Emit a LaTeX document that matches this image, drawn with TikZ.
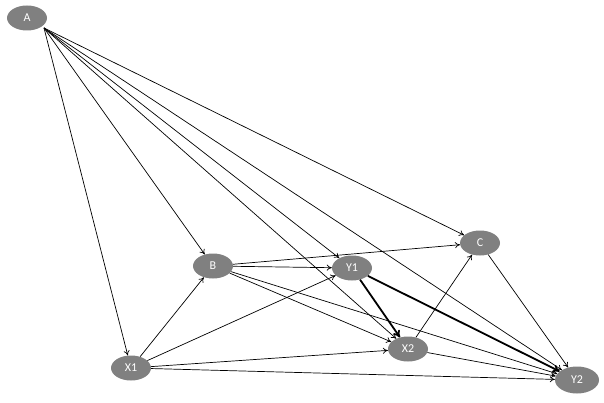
\documentclass[tikz,border=0pt]{standalone}
\usepackage{fontspec}
\setmainfont{Carlito}
\usetikzlibrary{shapes.geometric,arrows.meta}
\begin{document}
\begin{tikzpicture}[x=1pt,y=-1pt,
  nd/.style={ellipse,fill=black!50,text=white,minimum width=40pt,minimum height=25pt,inner sep=0pt,font=\large},
  ed/.style={-{To[length=5pt,width=6pt]},line width=0.7pt},
  th/.style={-{To[length=7pt,width=8pt]},line width=1.8pt}]
\useasboundingbox (0,0) rectangle (604,403);
\node[nd] (A) at (27,18) {A};
\node[nd] (B) at (213,266) {B};
\node[nd] (Y1) at (352,268) {Y1};
\node[nd] (C) at (480,243) {C};
\node[nd] (X1) at (131,368) {X1};
\node[nd] (X2) at (408,349) {X2};
\node[nd,minimum width=44pt,minimum height=27pt] (Y2) at (577,380) {Y2};
\coordinate (a) at (44,28);
\foreach \t in {X1,B,X2,Y1,Y2,C} \draw[ed] (a) -- (\t);
\foreach \t in {C,Y1,X2,Y2} \draw[ed] (B) -- (\t);
\foreach \t in {B,Y1,X2,Y2} \draw[ed] (X1) -- (\t);
\draw[ed] (X2) -- (C);
\draw[ed] (X2) -- (Y2);
\draw[ed] (C) -- (Y2);
\draw[th] (Y1) -- (X2);
\draw[th] (Y1) -- (Y2);
\end{tikzpicture}
\end{document}
